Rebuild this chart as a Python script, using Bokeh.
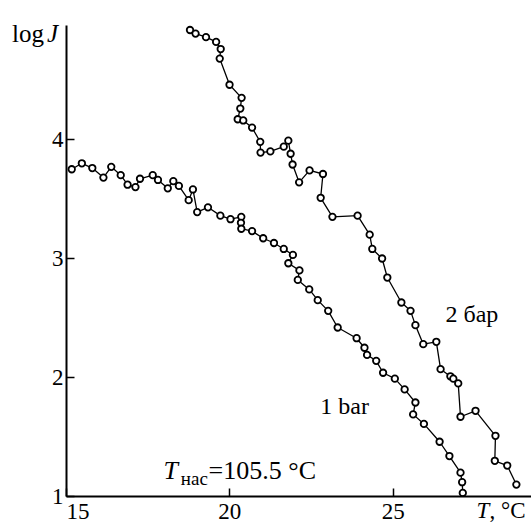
from bokeh.plotting import figure
from bokeh.models import Label, FixedTicker, Range1d
from bokeh.embed import file_html
from bokeh.resources import INLINE

# ---- data ----
x_ticks = [15, 20, 25]
y_ticks = [1, 2, 3, 4]
x_tick_labels = {15: "\u2007\u200715"}

t_1bar = [15.16, 15.47, 15.79, 16.13, 16.37, 16.66, 16.87, 17.11, 17.25, 17.64,
          17.80, 18.10, 18.27, 18.44, 18.74, 18.87, 19.00, 19.33, 19.71, 20.02,
          20.35, 20.34, 20.35, 20.68, 21.02, 21.35, 21.65, 21.93, 21.79, 22.13,
          22.08, 22.43, 22.69, 23.01, 23.30, 23.88, 24.12, 24.20, 24.48, 24.69,
          25.05, 25.35, 25.68, 25.61, 25.94, 26.42, 26.72, 27.06, 27.11, 27.13]
logj_1bar = [3.75, 3.80, 3.76, 3.68, 3.77, 3.70, 3.62, 3.60, 3.67, 3.70,
             3.66, 3.59, 3.65, 3.61, 3.49, 3.58, 3.39, 3.43, 3.36, 3.33,
             3.35, 3.30, 3.25, 3.23, 3.17, 3.13, 3.08, 3.03, 2.96, 2.90,
             2.82, 2.74, 2.65, 2.56, 2.42, 2.33, 2.25, 2.19, 2.14, 2.04,
             1.99, 1.90, 1.79, 1.69, 1.61, 1.46, 1.34, 1.20, 1.12, 1.03]

t_2bar = [18.78, 18.95, 19.27, 19.58, 19.72, 19.69, 19.99, 20.36, 20.32, 20.24,
          20.41, 20.68, 20.93, 20.94, 21.24, 21.65, 21.79, 21.86, 21.92, 22.12,
          22.44, 22.85, 22.78, 23.14, 23.91, 24.28, 24.36, 24.66, 24.82, 25.25,
          25.53, 25.68, 25.92, 26.32, 26.45, 26.75, 26.84, 26.99, 27.06, 27.52,
          28.13, 28.11, 28.49, 28.77]
logj_2bar = [4.92, 4.89, 4.86, 4.82, 4.76, 4.68, 4.46, 4.35, 4.26, 4.17,
             4.16, 4.10, 3.98, 3.89, 3.90, 3.94, 3.99, 3.88, 3.79, 3.64,
             3.74, 3.71, 3.51, 3.35, 3.36, 3.20, 3.08, 3.00, 2.84, 2.63,
             2.56, 2.44, 2.28, 2.30, 2.07, 2.01, 1.99, 1.95, 1.67, 1.72,
             1.51, 1.30, 1.26, 1.10]

label_1bar = "1 bar"
label_2bar = "2 бар"
sat_T_main = "T"
sat_T_sub = "нас"
sat_T_value = "=105.5  °C"
y_title_a = "log"
y_title_b = "J"
x_title_a = "T"
x_title_b = ", °C"

FONT = "'Liberation Serif', 'Times New Roman', serif"

p = figure(width=531, height=523,
           x_range=Range1d(12.98, 29.233), y_range=Range1d(0.773, 5.168),
           output_backend="svg", toolbar_location=None,
           min_border_left=0, min_border_right=0,
           min_border_top=0, min_border_bottom=0)
p.grid.visible = False
p.outline_line_color = None
p.background_fill_color = "white"
p.border_fill_color = "white"

p.xaxis.fixed_location = 1
p.yaxis.fixed_location = 15
p.xaxis.bounds = (15, 29.5)
p.yaxis.bounds = (1, 4.96)
p.xaxis.major_label_overrides = x_tick_labels

for ax, ticks in ((p.xaxis, x_ticks), (p.yaxis, y_ticks)):
    ax.ticker = FixedTicker(ticks=ticks)
    ax.axis_line_width = 2
    ax.axis_line_color = "black"
    ax.major_tick_in = 8
    ax.major_tick_out = 0
    ax.major_tick_line_width = 1.5
    ax.major_tick_line_color = "black"
    ax.minor_tick_line_color = None
    ax.major_label_text_font = FONT
    ax.major_label_text_font_size = "23px"
    ax.major_label_text_color = "black"
    ax.major_label_standoff = 3

for t, j in ((t_1bar, logj_1bar), (t_2bar, logj_2bar)):
    p.line(t, j, line_color="black", line_width=1.3)
    p.scatter(t, j, marker="circle", size=6.5, fill_color="white",
              line_color="black", line_width=1.8)

def lab(x, y, text, size="24px", style="normal", align="left", baseline="alphabetic"):
    p.add_layout(Label(x=x, y=y, text=text, text_font=FONT, text_font_size=size,
                       text_font_style=style, text_align=align,
                       text_baseline=baseline, text_color="black"))

# y title
lab(14.31, 4.89, y_title_a, size="25px", align="right")
lab(14.40, 4.89, y_title_b, size="25px", style="italic")
# x title
lab(27.55, 0.885, x_title_a, size="23px", style="italic")
lab(27.95, 0.885, x_title_b, size="23px")
# series labels
lab(26.60, 2.53, label_2bar)
lab(22.77, 1.76, label_1bar)
# saturation temperature
lab(17.97, 1.22, sat_T_main, size="26px", style="italic")
lab(18.50, 1.15, sat_T_sub, size="19px")
lab(19.35, 1.22, sat_T_value, size="26px")

open("out.html", "w").write(file_html(p, INLINE))
